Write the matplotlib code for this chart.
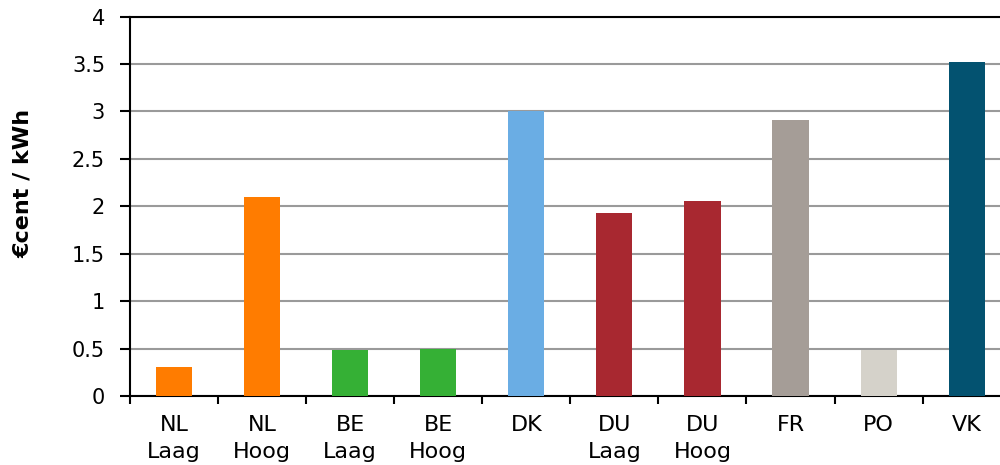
import matplotlib.pyplot as plt
import numpy as np

categories = ['NL\nLaag', 'NL\nHoog', 'BE\nLaag', 'BE\nHoog', 'DK',
              'DU\nLaag', 'DU\nHoog', 'FR', 'PO', 'VK']
values = [0.31, 2.10, 0.48, 0.50, 3.00, 1.93, 2.06, 2.91, 0.49, 3.52]
colors = ['#FF7C00', '#FF7C00', '#35B035', '#35B035', '#6AADE4',
          '#A82830', '#A82830', '#A59D97', '#D5D2CA', '#035270']

fig = plt.figure(figsize=(10, 4.65), dpi=100)
ax = fig.add_axes([0.13, 0.1484, 0.8807, 0.8161])

x = np.arange(len(categories))
ax.bar(x, values, width=0.41, color=colors, zorder=3)

ax.set_xlim(-0.5, len(categories) - 0.5)
ax.set_ylim(0, 4)
ax.set_yticks(np.arange(0, 4.01, 0.5))
ax.set_yticklabels(['0', '0.5', '1', '1.5', '2', '2.5', '3', '3.5', '4'])
ax.yaxis.grid(True, color='#9A9A9A', linewidth=1.5, zorder=0)

# category labels centred, tick marks on the boundaries
ax.set_xticks(x)
ax.set_xticklabels(categories, fontsize=16)
ax.tick_params(axis='x', which='major', length=0, pad=14)
ax.set_xticks(np.arange(-0.5, len(categories), 1.0), minor=True)
ax.tick_params(axis='x', which='minor', length=6, width=1.5, direction='out')
ax.tick_params(axis='y', length=7, width=1.5, direction='out', pad=11,
               labelsize=15)
for lbl in ax.get_xticklabels():
    lbl.set_linespacing(1.42)

for side in ['left', 'bottom', 'top']:
    ax.spines[side].set_linewidth(1.5)
    ax.spines[side].set_color('black')
ax.spines['right'].set_visible(False)

ax.set_ylabel('€cent / kWh', fontsize=16, fontweight='bold')
ax.yaxis.set_label_coords(-0.11, 0.56)

fig.savefig('out.png', dpi=100)
